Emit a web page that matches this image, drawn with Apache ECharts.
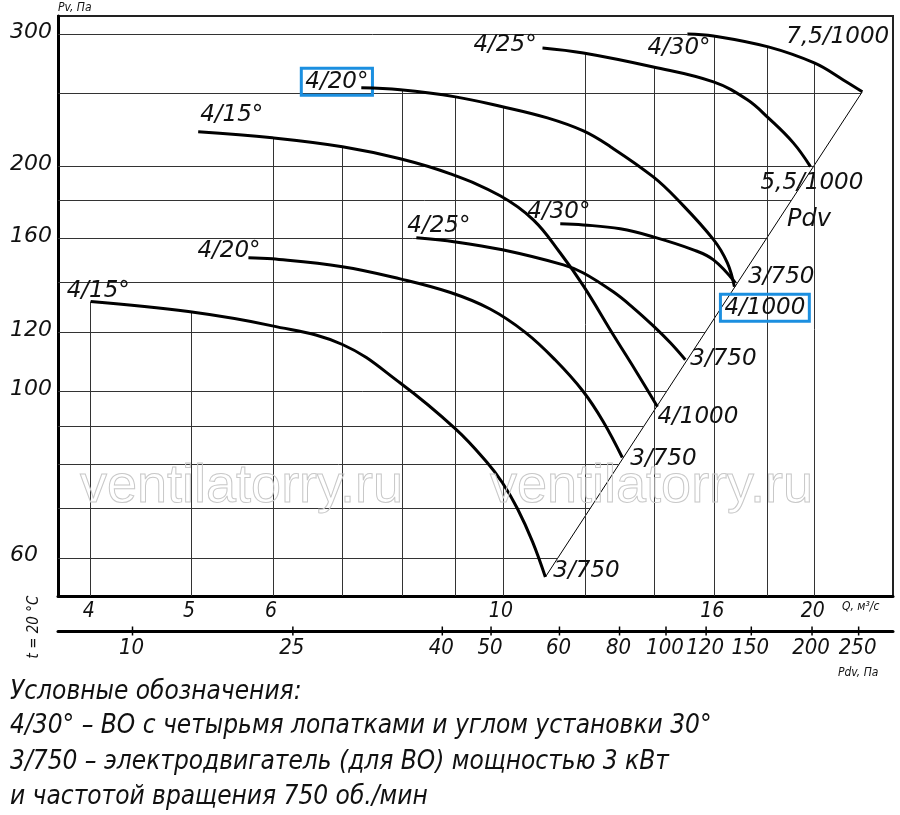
<!DOCTYPE html>
<html>
<head>
<meta charset="utf-8">
<title>Аэродинамическая характеристика</title>
<script src="https://cdn.jsdelivr.net/npm/echarts@6/dist/echarts.min.js"></script>
<style>
  html, body { margin: 0; padding: 0; background: #fff; }
  #main { width: 900px; height: 815px; }
</style>
</head>
<body>
<div id="main"></div>
<script>
// axis ticks (Q, м3/с  and  Pv, Па), log scales
var qMin = 3.72, qMax = 23.8;
var pMin = 53.4, pMax = 317;
var qTicks = [4, 5, 6, 7, 8, 9, 10, 12, 14, 16, 18, 20];
var qLabels = [4, 5, 6, 10, 16, 20];
var pTicks = [60, 70, 80, 90, 100, 120, 140, 160, 180, 200, 250, 300];
var pLabels = [60, 100, 120, 160, 200, 300];
// Pdv scale under the chart: tick values and the Q they sit at
var pdvTicks = [10, 25, 40, 50, 60, 80, 100, 120, 150, 200, 250];
var pdvTickQ = [4.39, 6.27, 8.74, 9.74, 11.34, 12.96, 14.37, 15.71, 17.37, 19.88, 22.05];

// characteristics [Q, Pv]
var c15lo = [[4.00,131.9],[4.97,127.9],[5.99,122.4],[7.00,115.6],[7.96,102.7],[9.00,89.2],[9.66,80.4],[9.99,75.6],[10.33,69.8],[10.68,63.1],[10.99,56.6]];
var c20lo = [[5.68,150.9],[5.99,150.4],[7.00,146.8],[7.96,141.4],[8.90,135.6],[9.72,128.9],[10.51,120.0],[11.23,110.3],[11.96,100.0],[12.50,91.2],[13.04,81.7]];
var c25lo = [[8.25,160.4],[9.00,158.4],[9.99,154.6],[11.44,147.6],[11.96,144.0],[12.78,135.9],[13.36,129.4],[13.97,122.4],[14.51,116.2],[15.00,110.3]];
var c30lo = [[11.36,167.5],[11.96,166.9],[12.98,164.9],[13.97,160.9],[15.27,154.6],[15.97,149.9],[16.76,139.8]];
var c15hi = [[5.08,222.2],[5.99,218.1],[7.00,212.2],[7.96,204.5],[8.90,195.2],[9.94,182.5],[10.70,169.5],[11.36,153.1],[11.96,138.4],[12.78,119.1],[13.42,106.9],[14.10,95.5]];
var c20hi = [[7.30,254.3],[7.96,252.7],[9.00,247.3],[9.99,239.9],[11.04,231.8],[11.96,222.7],[12.70,212.2],[13.97,193.4],[14.74,180.4],[15.97,159.5],[16.47,148.5],[16.73,138.0]];
var c25hi = [[10.92,287.4],[11.96,283.0],[13.97,271.1],[15.97,258.9],[17.22,245.1],[18.04,231.8],[19.07,214.7],[19.81,199.6]];
var c30hi = [[15.07,300],[15.97,298.2],[18.04,288.3],[19.98,274.4],[21.31,260.5],[22.23,251.2]];

var bladeNames = ['4/15°', '4/20°', '4/25°', '4/30°', '4/15°', '4/20°', '4/25°', '4/30°'];
var motorNames = ['3/750', '3/750', '3/750', '3/750', '4/1000', '4/1000', '5,5/1000', '7,5/1000'];

var curves = [c15lo, c20lo, c25lo, c30lo, c15hi, c20hi, c25hi, c30hi];
// label placement relative to curve start / end (pixels)
var startOff = [[-24,-11],[-51,-7],[-9,-12],[-33,-12],[2,-17],[-60,-6],[-69,-3],[-40,14]];
var endOff = [[8,-6],[8,2],[5,-1],[13,-6],[0,10],[-14,21],[-50,16],[-76,-55]];
var boxed = [false, false, false, false, false, true, false, false];

var wide = 'DejaVu Sans';
var narrow = "'Liberation Sans Narrow', 'DejaVu Sans Condensed', sans-serif";

function lg(v) { return Math.log(v) / Math.LN10; }
function lerpLog(a, b, t) { return Math.pow(10, lg(a) + t * (lg(b) - lg(a))); }

// Q where a curve falls to p
function crossQ(c, p) {
  if (p > c[0][1]) return null;
  if (p <= c[c.length - 1][1]) return c[c.length - 1][0];
  for (var i = 1; i < c.length; i++) {
    if (p <= c[i - 1][1] && p >= c[i][1]) {
      var t = (lg(p) - lg(c[i - 1][1])) / (lg(c[i][1]) - lg(c[i - 1][1]));
      return lerpLog(c[i - 1][0], c[i][0], t);
    }
  }
  return null;
}
// Pv of a curve at q
function curveP(c, q) {
  if (q < c[0][0] || q > c[c.length - 1][0]) return null;
  for (var i = 1; i < c.length; i++) {
    if (q >= c[i - 1][0] && q <= c[i][0]) {
      var t = (lg(q) - lg(c[i - 1][0])) / (lg(c[i][0]) - lg(c[i - 1][0]));
      return lerpLog(c[i - 1][1], c[i][1], t);
    }
  }
  return null;
}

// Pdv line through the lowest and highest curve ends
var pdvA = c15lo[c15lo.length - 1], pdvB = c30hi[c30hi.length - 1];
function pdvQ(p) {
  var t = (lg(p) - lg(pdvA[1])) / (lg(pdvB[1]) - lg(pdvA[1]));
  return lerpLog(pdvA[0], pdvB[0], t);
}

// grid only inside the working field: left of Pdv, under the top curve
var gridLines = [];
pTicks.forEach(function (p) {
  var far = null;
  curves.forEach(function (c) {
    var q = crossQ(c, p);
    if (q !== null && (far === null || q > far)) far = q;
  });
  var end = Math.min(pdvQ(p), far === null ? qMax : far, qMax);
  gridLines.push([{ coord: [qMin, p] }, { coord: [end, p] }]);
});
qTicks.forEach(function (q) {
  var top = null;
  curves.forEach(function (c) {
    var p = curveP(c, q);
    if (p !== null && (top === null || p > top)) top = p;
  });
  if (top !== null) gridLines.push([{ coord: [q, pMin] }, { coord: [q, top] }]);
});

function labelStyle(text, off, box) {
  var l = {
    show: true, position: 'inside', align: 'left', verticalAlign: 'middle',
    offset: off, formatter: text, color: '#111',
    fontFamily: wide, fontStyle: 'italic', fontSize: 23
  };
  if (box) {
    l.borderColor = '#1b8fe0'; l.borderWidth = 3; l.padding = [3, 4, 1, 4];
  }
  return l;
}

var series = [];
series.push({
  type: 'line', name: 'Pdv', data: [pdvA, pdvB], symbol: 'none', silent: true,
  lineStyle: { color: '#000', width: 1 }, z: 3,
  markLine: {
    silent: true, symbol: ['none', 'none'], label: { show: false },
    lineStyle: { color: '#333', width: 1, type: 'solid' },
    data: gridLines, animation: false
  }
});
curves.forEach(function (c, i) {
  series.push({
    type: 'line', data: c, smooth: 0.4, symbol: 'none', silent: true, z: 5,
    lineStyle: { color: '#000', width: 3 },
    markPoint: {
      symbol: 'circle', symbolSize: 1, itemStyle: { color: 'rgba(0,0,0,0)' }, silent: true,
      data: [
        { coord: c[0], label: labelStyle(bladeNames[i], startOff[i], boxed[i]) },
        { coord: c[c.length - 1], label: labelStyle(motorNames[i], endOff[i], boxed[i]) }
      ]
    }
  });
});
// tick labels of the Pv axis
series.push({
  type: 'scatter', clip: false, silent: true, symbolSize: 1,
  itemStyle: { color: 'rgba(0,0,0,0)', opacity: 1 },
  data: pLabels.map(function (p) {
    var item = { value: [qMin, p] };
    if (p === pLabels[0]) item.label = { offset: [-20, -3] };
    return item;
  }),
  label: {
    show: true, position: 'inside', align: 'right', verticalAlign: 'middle',
    formatter: function (d) { return d.value[1]; },
    offset: [-6, -2], color: '#111', fontFamily: wide, fontStyle: 'italic', fontSize: 22
  }
});
// tick labels of the Q axis
series.push({
  type: 'scatter', clip: false, silent: true, symbolSize: 1,
  itemStyle: { color: 'rgba(0,0,0,0)', opacity: 1 },
  data: qLabels.map(function (q) { return [q, pMin]; }),
  label: {
    show: true, position: 'inside', align: 'center', verticalAlign: 'middle',
    formatter: function (d) { return d.value[0]; },
    offset: [-2, 16], color: '#111', fontFamily: narrow, fontStyle: 'italic', fontSize: 21
  }
});
// Pdv scale
series.push({
  type: 'scatter', xAxisIndex: 1, yAxisIndex: 1, clip: false, silent: true,
  symbol: 'rect', symbolSize: [1.5, 9], itemStyle: { color: '#000', opacity: 1 },
  data: pdvTickQ.map(function (q, i) { return { value: [q, 0], name: String(pdvTicks[i]) }; }),
  label: {
    show: true, position: 'inside', align: 'center', verticalAlign: 'middle',
    formatter: '{b}', offset: [-1, 17], color: '#111',
    fontFamily: narrow, fontStyle: 'italic', fontSize: 22
  }
});

function txt(x, y, s, size, family, extra) {
  var st = {
    text: s, fill: '#111', fontSize: size, fontFamily: family, fontStyle: 'italic',
    align: 'left', verticalAlign: 'middle', textAlign: 'left', textVerticalAlign: 'middle'
  };
  for (var k in extra) st[k] = extra[k];
  return { type: 'text', x: x, y: y, z: 10, silent: true, style: st };
}

var graphics = [
  txt(58, 8, 'Pv, Па', 12, narrow),
  txt(842, 607, 'Q, м³/с', 12, narrow),
  txt(838, 673, 'Pdv, Па', 12, narrow),
  txt(787, 220, 'Pdv', 24, wide),
  txt(10, 692, 'Условные обозначения:', 26, narrow),
  txt(10, 726, '4/30° – ВО с четырьмя лопатками и углом установки 30°', 26, narrow),
  txt(10, 762, '3/750 – электродвигатель (для ВО) мощностью 3 кВт', 26, narrow),
  txt(10, 797, 'и частотой вращения 750 об./мин', 26, narrow),
  txt(80, 487, 'ventilatorry.ru', 54, 'Liberation Sans', { fill: 'rgba(0,0,0,0)', stroke: '#c8c8c8', lineWidth: 1, fontStyle: 'normal' }),
  txt(490, 487, 'ventilatorry.ru', 54, 'Liberation Sans', { fill: 'rgba(0,0,0,0)', stroke: '#c8c8c8', lineWidth: 1, fontStyle: 'normal' })
];
var tLabel = txt(34, 627, 't = 20 °C', 15, narrow);
tLabel.rotation = Math.PI / 2;
tLabel.style.align = 'center'; tLabel.style.textAlign = 'center';
graphics.push(tLabel);

var hidden = { show: false };
var myChart = echarts.init(document.getElementById('main'), null, { renderer: 'canvas' });
var option = {
  animation: false,
  backgroundColor: '#fff',
  grid: [
    { left: 58, right: 7, top: 16, bottom: 219, show: true, borderColor: '#222', borderWidth: 2 },
    { left: 58, right: 7, top: 617, height: 14 }
  ],
  xAxis: [
    { type: 'log', gridIndex: 0, min: qMin, max: qMax, axisTick: hidden, axisLabel: hidden, splitLine: hidden,
      axisLine: { show: true, onZero: false, lineStyle: { color: '#000', width: 3 } } },
    { type: 'log', gridIndex: 1, min: qMin, max: qMax, axisTick: hidden, axisLabel: hidden, splitLine: hidden,
      axisLine: { show: true, onZero: false, lineStyle: { color: '#000', width: 3 } } }
  ],
  yAxis: [
    { type: 'log', gridIndex: 0, min: pMin, max: pMax, axisTick: hidden, axisLabel: hidden, splitLine: hidden,
      axisLine: { show: true, onZero: false, lineStyle: { color: '#000', width: 3 } } },
    { type: 'value', gridIndex: 1, min: 0, max: 1, show: false }
  ],
  graphic: graphics,
  series: series
};
myChart.setOption(option);
</script>
</body>
</html>
